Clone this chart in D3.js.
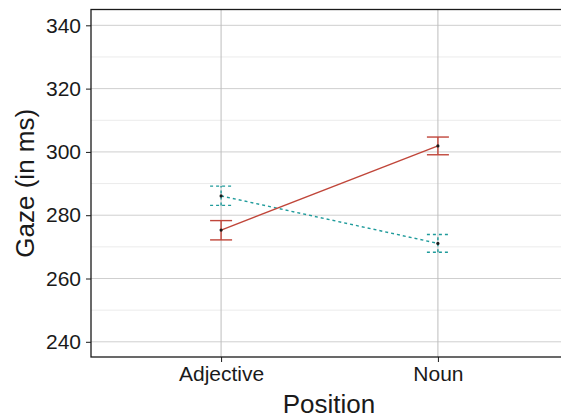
<!DOCTYPE html>
<html>
<head>
<meta charset="utf-8">
<script src="https://cdn.jsdelivr.net/npm/d3@7"></script>
<style>
  body { margin: 0; background: #fff; }
  text { font-family: "Liberation Sans", Arial, sans-serif; fill: #1a1a1a; }
</style>
</head>
<body>
<svg id="chart" width="561" height="419"></svg>
<script>
// data
const positions = ['Adjective', 'Noun'];
const redMean = [275.3, 301.9];
const redLow = [272.2, 299.1];
const redHigh = [278.3, 304.7];
const tealMean = [286.1, 271.1];
const tealLow = [283.1, 268.3];
const tealHigh = [289.2, 273.9];
const yTicks = [240, 260, 280, 300, 320, 340];
const yMinor = [250, 270, 290, 310, 330];

const margin = { left: 91, top: 9.5, right: 568, bottom: 357 };

const svg = d3.select('#chart');

const x = d3.scalePoint()
  .domain(positions)
  .range([margin.left, margin.right])
  .padding(0.6);

const y = d3.scaleLinear()
  .domain([235.2, 345])
  .range([margin.bottom, margin.top]);

// grid
const grid = svg.append('g');
grid.selectAll('line.minor')
  .data(yMinor)
  .join('line')
  .attr('x1', margin.left).attr('x2', margin.right)
  .attr('y1', d => y(d)).attr('y2', d => y(d))
  .attr('stroke', '#ebebeb')
  .attr('stroke-width', 1);
grid.selectAll('line.major')
  .data(yTicks)
  .join('line')
  .attr('x1', margin.left).attr('x2', margin.right)
  .attr('y1', d => y(d)).attr('y2', d => y(d))
  .attr('stroke', '#cfcfcf')
  .attr('stroke-width', 1);
grid.selectAll('line.vx')
  .data(positions)
  .join('line')
  .attr('x1', d => x(d)).attr('x2', d => x(d))
  .attr('y1', margin.top).attr('y2', margin.bottom)
  .attr('stroke', '#bdbdbd')
  .attr('stroke-width', 1);

// series
const series = [
  { mean: tealMean, low: tealLow, high: tealHigh, color: '#1f9b9b', dash: '3,3' },
  { mean: redMean, low: redLow, high: redHigh, color: '#c0463a', dash: null }
];

const capHalf = 11;
series.forEach(s => {
  const g = svg.append('g');
  const pts = positions.map((p, i) => ({ p, m: s.mean[i], lo: s.low[i], hi: s.high[i] }));

  g.append('path')
    .datum(pts)
    .attr('fill', 'none')
    .attr('stroke', s.color)
    .attr('stroke-width', 1.4)
    .attr('stroke-dasharray', s.dash)
    .attr('d', d3.line().x(d => x(d.p)).y(d => y(d.m)));

  g.selectAll('line.bar')
    .data(pts)
    .join('line')
    .attr('x1', d => x(d.p)).attr('x2', d => x(d.p))
    .attr('y1', d => y(d.lo)).attr('y2', d => y(d.hi))
    .attr('stroke', s.color)
    .attr('stroke-width', 1.4)
    .attr('stroke-dasharray', s.dash);

  ['lo', 'hi'].forEach(k => {
    g.selectAll('line.cap' + k)
      .data(pts)
      .join('line')
      .attr('x1', d => x(d.p) - capHalf).attr('x2', d => x(d.p) + capHalf)
      .attr('y1', d => y(d[k])).attr('y2', d => y(d[k]))
      .attr('stroke', s.color)
      .attr('stroke-width', 1.4)
      .attr('stroke-dasharray', s.dash);
  });

  g.selectAll('circle')
    .data(pts)
    .join('circle')
    .attr('cx', d => x(d.p))
    .attr('cy', d => y(d.m))
    .attr('r', 1.6)
    .attr('fill', '#1a1a1a');
});

// panel border
svg.append('rect')
  .attr('x', margin.left).attr('y', margin.top)
  .attr('width', margin.right - margin.left)
  .attr('height', margin.bottom - margin.top)
  .attr('fill', 'none')
  .attr('stroke', '#1a1a1a')
  .attr('stroke-width', 1.3);

// axes
const yAxis = svg.append('g')
  .attr('transform', `translate(${margin.left},0)`)
  .call(d3.axisLeft(y).tickValues(yTicks).tickSize(5).tickPadding(5));
yAxis.select('.domain').remove();
yAxis.selectAll('line').attr('stroke', '#1a1a1a');
yAxis.selectAll('text')
  .style('font-family', '"Liberation Sans", Arial, sans-serif')
  .style('font-size', '21px')
  .attr('fill', '#1a1a1a');

const xAxis = svg.append('g')
  .attr('transform', `translate(0,${margin.bottom})`)
  .call(d3.axisBottom(x).tickSize(5).tickPadding(4));
xAxis.select('.domain').remove();
xAxis.selectAll('line').attr('stroke', '#1a1a1a');
xAxis.selectAll('text')
  .style('font-family', '"Liberation Sans", Arial, sans-serif')
  .style('font-size', '21px')
  .attr('fill', '#1a1a1a');

// titles
svg.append('text')
  .attr('x', 329)
  .attr('y', 413)
  .attr('text-anchor', 'middle')
  .style('font-size', '26px')
  .text('Position');

svg.append('text')
  .attr('transform', `translate(34,${(margin.top + margin.bottom) / 2}) rotate(-90)`)
  .attr('text-anchor', 'middle')
  .style('font-size', '26px')
  .text('Gaze (in ms)');
</script>
</body>
</html>
